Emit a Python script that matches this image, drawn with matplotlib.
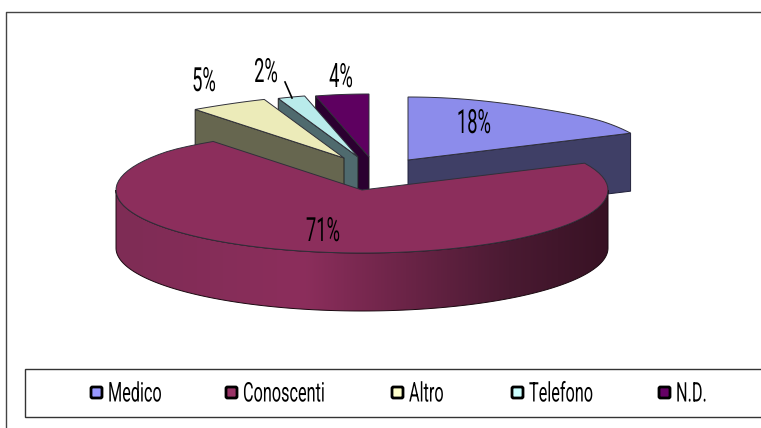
import numpy as np
import matplotlib
matplotlib.use('Agg')
import matplotlib.pyplot as plt
from matplotlib.colors import LinearSegmentedColormap
from matplotlib.patches import Polygon, Rectangle, FancyBboxPatch
from matplotlib.patheffects import AbstractPathEffect
from matplotlib.transforms import Affine2D

labels = ['Medico', 'Conoscenti', 'Altro', 'Telefono', 'N.D.']
values = [18, 71, 5, 2, 4]

top_colors = ['#8c8ceb', '#8c2e5c', '#ecebb9', '#b9ebeb', '#5e0060']
side_colors = ['#3f3f66', '#3a1226', '#66664f', '#4f6a6e', '#2b0030']
legend_colors = ['#9999ff', '#993366', '#ffffcc', '#ccffff', '#660066']

# layout in pixels
offsets = [(46, -30), (0, 0), (-18, -32), (-4, -33), (7, -33)]
label_pos = [(474, 124), (323, 232), (204, 82), (266, 73), (341, 78)]
legend_x = [90, 225, 391, 511, 658]
center = (362, 190)
rx, ry, depth = 246, 63, 58
font = ['Roboto', 'DejaVu Sans']


class Squeeze(AbstractPathEffect):
    # the original font is very narrow, squeeze the glyphs around x0
    def __init__(self, x0, sx=0.6):
        super().__init__()
        self.x0, self.sx = x0, sx

    def draw_path(self, renderer, gc, tpath, affine, rgbFace=None):
        squeeze = Affine2D().translate(-self.x0, 0).scale(self.sx, 1).translate(self.x0, 0)
        renderer.draw_path(gc, tpath, affine + squeeze, rgbFace)


def pts(cx, cy, a, b, n=80):
    t = np.radians(np.linspace(a, b, n))
    c, s = np.cos(t), np.sin(t)
    # far side of the pie looks narrower
    u = np.clip((c - 0.6) / 0.4, 0, 1)
    k = 1 - 0.13 * u * u * (3 - 2 * u)
    return np.column_stack([cx + rx * s * k, cy - ry * c])


fig = plt.figure(figsize=(7.61, 4.28), dpi=100)
ax = fig.add_axes([0, 0, 1, 1])

edges = np.cumsum([0] + values) * 3.6
order = [0, 4, 3, 2, 1]
for z, i in enumerate(order):
    a, b = edges[i], edges[i + 1]
    cx, cy = center[0] + offsets[i][0], center[1] + offsets[i][1]
    arc = pts(cx, cy, a, b)
    apex = np.array([cx, cy])
    lw = 0.7
    if i == 0:
        # face along the end of the slice
        face = [apex, arc[-1], arc[-1] + [0, depth], apex + [0, depth]]
        ax.add_patch(Polygon(face, fc=side_colors[i], ec='#20203a', lw=lw, zorder=z * 2 + 1))
    elif i == 1:
        # round outer wall with a gradient
        wall_top = pts(cx, cy, 270, 90, 160)
        wall = np.vstack([wall_top, (wall_top + [0, depth])[::-1]])
        poly = Polygon(wall, fc='none', ec='#1a0810', lw=lw, zorder=z * 2 + 2)
        ax.add_patch(poly)
        cmap = LinearSegmentedColormap.from_list('wall', [(0, '#7e2c55'), (0.38, '#8c2e5c'), (0.8, '#4a1a32'), (1, '#381224')])
        im = ax.imshow(np.linspace(0, 1, 256)[None, :], cmap=cmap, aspect='auto',
                       extent=(wall[:, 0].min(), wall[:, 0].max(), wall[:, 1].max(), wall[:, 1].min()),
                       zorder=z * 2 + 1)
        im.set_clip_path(Polygon(wall, transform=ax.transData))
    else:
        # face along the start of the slice
        face = [arc[0], apex, apex + [0, depth], arc[0] + [0, depth]]
        ax.add_patch(Polygon(face, fc=side_colors[i], ec='#202020', lw=lw, zorder=z * 2 + 1))
    top = np.vstack([apex, arc])
    ax.add_patch(Polygon(top, fc=top_colors[i], ec='#30303a', lw=lw, zorder=z * 2 + 2))

for i, (x, y) in enumerate(label_pos):
    ax.text(x, y, f'{values[i]}%', ha='center', va='center', fontsize=24, family=font,
            color='black', zorder=30, path_effects=[Squeeze(x, 0.55)])
ax.plot([285, 292], [82, 98], color='black', lw=1.2, zorder=30)

# chart frame
ax.plot([6, 6, 761], [428, 12, 12], color='#444444', lw=1, zorder=31)

# legend box
ax.add_patch(Rectangle((25, 369), 760, 48, fc='white', ec='#333333', lw=1, zorder=31))
for i, name in enumerate(labels):
    x = legend_x[i]
    ax.add_patch(FancyBboxPatch((x + 1, 387), 11, 11, boxstyle='round,pad=0,rounding_size=1.5',
                                fc=legend_colors[i], ec='black', lw=2, zorder=32))
    ax.text(x + 18, 394, name, ha='left', va='center', fontsize=19.5, family=font,
            color='black', zorder=32, path_effects=[Squeeze(x + 18)])

ax.set_xlim(0, 761)
ax.set_ylim(428, 0)
ax.axis('off')
fig.savefig('out.png', dpi=100)
